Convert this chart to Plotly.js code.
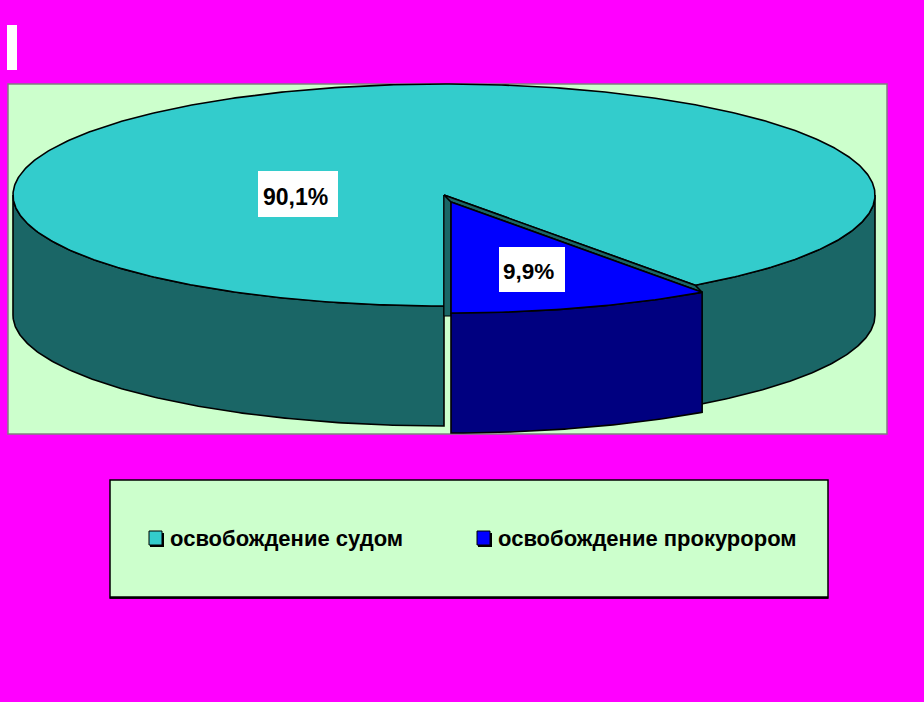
<!DOCTYPE html>
<html>
<head>
<meta charset="utf-8">
<script src="https://cdn.plot.ly/plotly-3.0.1.min.js"></script>
<style>html,body{margin:0;padding:0;background:#FF00FF}#chart{width:924px;height:702px}</style>
</head>
<body>
<div id="chart"></div>
<script>
var categories = ['освобождение судом', 'освобождение прокурором'];
var shares = [90.1, 9.9];
var shareLabels = ['90,1%', '9,9%'];

var TOP = '#33CCCC', SIDE = '#1A6666', BLUE = '#0000FF', NAVY = '#000080', INK = '#000000';
var panel = '#CCFFCC', page = '#FF00FF';
var rx = 431, ry = 111, depth = 120;
var c1 = {x: 444, y: 195}, c2 = {x: 451, y: 202};

var total = shares[0] + shares[1];
var split = shares[1] / total * 2 * Math.PI;

function pt(c, t, dz) { return [c.x + rx * Math.sin(t), c.y + ry * Math.cos(t) + (dz || 0)]; }
function arc(c, a, b, dz) {
  var n = Math.max(2, Math.ceil(Math.abs(b - a) / 0.01)), out = [];
  for (var i = 0; i <= n; i++) out.push(pt(c, a + (b - a) * i / n, dz));
  return out;
}
function poly(points, fill, name, w) {
  return {
    type: 'scatter', mode: 'lines', fill: 'toself', fillcolor: fill, name: name,
    x: points.map(function (p) { return p[0]; }),
    y: points.map(function (p) { return p[1]; }),
    line: {color: INK, width: w === undefined ? 1.6 : w},
    hoverinfo: 'skip', showlegend: false
  };
}
function wall(c, a, b, fill, name) {
  var pts = arc(c, a, b, 0).concat(arc(c, b, a, depth));
  pts.push(pts[0]);
  return poly(pts, fill, name);
}
var p1 = pt(c1, split), p2 = pt(c2, split);

var traces = [
  wall(c1, 1.5 * Math.PI, 2 * Math.PI, SIDE, categories[0]),
  wall(c1, split, 0.5 * Math.PI, SIDE, categories[0]),
  poly([[c1.x, c1.y]].concat(arc(c1, split, 2 * Math.PI)).concat([[c1.x, c1.y]]), TOP, categories[0]),
  poly([[c1.x, c1.y], [c2.x, c2.y], [c2.x, c1.y + ry + 10], [c1.x, c1.y + ry + 10], [c1.x, c1.y]], SIDE, categories[0], 1),
  poly([[c1.x, c1.y], p1, p2, [c2.x, c2.y], [c1.x, c1.y]], SIDE, categories[0]),
  wall(c2, 0, split, NAVY, categories[1]),
  poly([[c2.x, c2.y]].concat(arc(c2, 0, split)).concat([[c2.x, c2.y]]), BLUE, categories[1])
];

function rect(x0, y0, x1, y1, fill, line, w, layer) {
  return {type: 'rect', xref: 'x', yref: 'y', x0: x0, y0: y0, x1: x1, y1: y1, layer: layer || 'below',
          fillcolor: fill, line: {color: line || fill, width: w === undefined ? 0 : w}};
}
var shapes = [
  rect(7, 25, 17, 70, '#FFFFFF'),
  rect(8, 84, 887, 434, panel, '#808080', 1.5),
  rect(110, 480, 828, 598, panel, INK, 1.5),
  {type: 'line', xref: 'x', yref: 'y', x0: 110, x1: 828, y0: 597.5, y1: 597.5, layer: 'below', line: {color: INK, width: 2.5}},
  rect(150, 533, 164, 547, INK),
  rect(149, 531, 162, 545, TOP, INK, 1),
  rect(478, 533, 492, 547, INK),
  rect(477, 531, 490, 545, BLUE, INK, 1),
  rect(258, 171, 338, 217, '#FFFFFF', null, 0, 'above'),
  rect(499, 247, 565, 292, '#FFFFFF', null, 0, 'above')
];

function label(text, x, y, size) {
  return {xref: 'x', yref: 'y', x: x, y: y, xanchor: 'center', yanchor: 'middle', text: text, showarrow: false,
          font: {family: 'Liberation Sans', size: size, color: '#000000', weight: 'bold'}};
}
function legendText(text, x) {
  return {xref: 'x', yref: 'y', x: x, y: 538, xanchor: 'left', yanchor: 'middle', text: text, showarrow: false,
          font: {family: 'Liberation Sans', size: 22, color: '#000000', weight: 'bold'}};
}

var layout = {
  width: 924, height: 702, margin: {l: 0, r: 0, t: 0, b: 0},
  paper_bgcolor: page, plot_bgcolor: page, showlegend: false,
  xaxis: {range: [0, 924], visible: false, fixedrange: true},
  yaxis: {range: [702, 0], visible: false, fixedrange: true},
  shapes: shapes,
  annotations: [
    label(shareLabels[0], 295, 197, 23),
    label(shareLabels[1], 528.5, 271, 22.5),
    legendText(categories[0], 168),
    legendText(categories[1], 496)
  ]
};
Plotly.newPlot('chart', traces, layout, {displayModeBar: false, staticPlot: true});
</script>
</body>
</html>
